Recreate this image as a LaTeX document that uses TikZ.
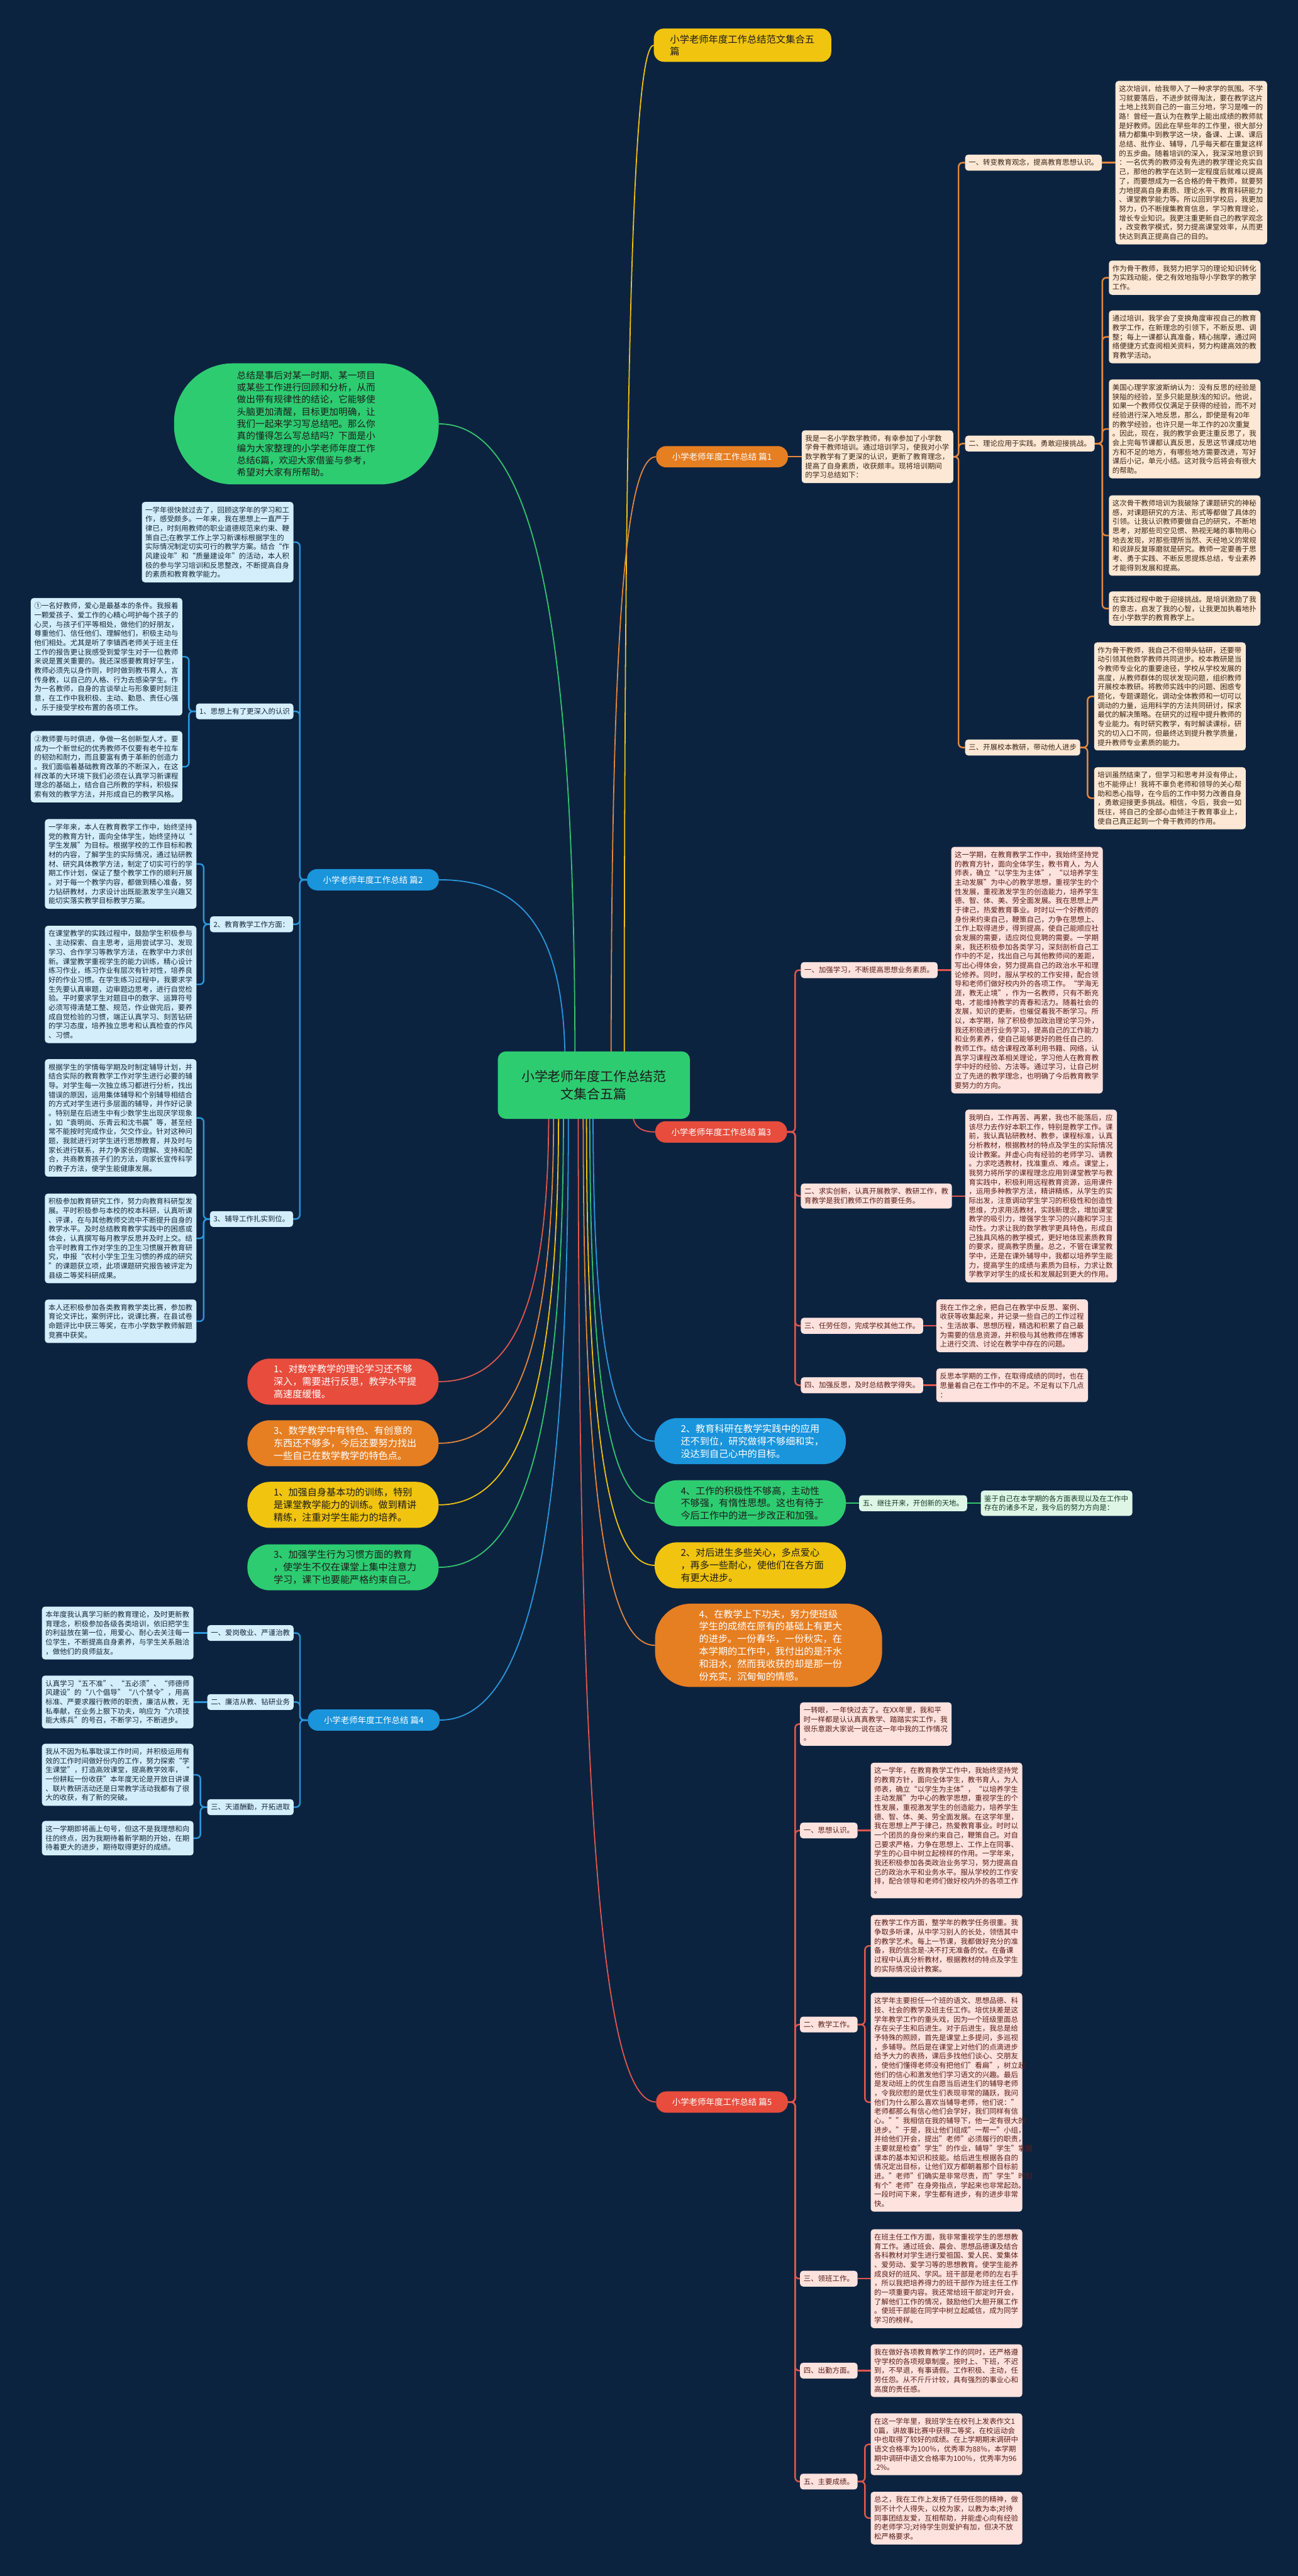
\documentclass[tikz,border=0pt]{standalone}
\usepackage{fontspec}
\setmainfont{Noto Sans CJK SC}
\usetikzlibrary{calc}
\pgfdeclarelayer{back}
\pgfsetlayers{back,main}
\definecolor{bgc}{HTML}{0C2340}
\definecolor{orgc}{HTML}{E67E22}
\definecolor{orgl}{HTML}{E5873B}
\definecolor{peach}{HTML}{FCE8D4}
\definecolor{peachtxt}{HTML}{3B2616}
\definecolor{redc}{HTML}{E74C3C}
\definecolor{redl}{HTML}{E2574C}
\definecolor{pink}{HTML}{FDE2DE}
\definecolor{pinktxt}{HTML}{5A1E18}
\definecolor{bluec}{HTML}{1A94DB}
\definecolor{bluel}{HTML}{2A98DC}
\definecolor{lblue}{HTML}{D5EEFB}
\definecolor{lbluetxt}{HTML}{14283C}
\definecolor{greenc}{HTML}{2ECC71}
\definecolor{greenl}{HTML}{35C46F}
\definecolor{lgreen}{HTML}{DDF6E6}
\definecolor{lgreentxt}{HTML}{173A25}
\definecolor{yellowc}{HTML}{F1C40F}
\definecolor{darkc}{HTML}{1C1C1C}
\newcommand{\fanline}[3]{\draw[#1] (#2) .. controls ($(#2)!0.7!(#2|-#3)$) and ($(#3)!0.7!(#2|-#3)$) .. (#3);}
\begin{document}
\begin{tikzpicture}[x=1.62025pt,y=-1.62025pt,
 every node/.style={inner sep=0pt, outer sep=0pt},
 bx/.style={rounded corners=3pt, align=left, text width=142.5pt, inner xsep=3.5pt, inner ysep=4.5pt, font=\fontsize{7.1pt}{9.1pt}\selectfont},
 lb/.style={rounded corners=3pt, align=left, inner xsep=3.5pt, inner ysep=4.5pt, font=\fontsize{7.1pt}{9.1pt}\selectfont},
 obox/.style={bx, fill=peach, text=peachtxt}, olb/.style={lb, fill=peach, text=peachtxt},
 rbox/.style={bx, fill=pink, text=pinktxt}, rlb/.style={lb, fill=pink, text=pinktxt},
 bbox/.style={bx, fill=lblue, text=lbluetxt}, blb/.style={lb, fill=lblue, text=lbluetxt},
 gbox/.style={bx, fill=lgreen, text=lgreentxt}, glb/.style={lb, fill=lgreen, text=lgreentxt},
 l1/.style={rounded corners=10pt, align=center, minimum width=130pt, minimum height=21pt, font=\fontsize{8.35pt}{10pt}\selectfont, text=white},
 pl/.style={rounded corners=22pt, align=left, text width=137pt, inner xsep=25.8pt, inner ysep=5pt, minimum height=45.4pt, font=\fontsize{9.4pt}{12.35pt}\selectfont},
 oline/.style={draw=orgl, line width=1.5pt, rounded corners=4pt},
 rline/.style={draw=redl, line width=1.5pt, rounded corners=4pt},
 bline/.style={draw=bluel, line width=1.5pt, rounded corners=4pt},
 gline/.style={draw=greenl, line width=1.5pt, rounded corners=4pt},
 fan/.style={line width=1.1pt}
]
\begin{pgfonlayer}{back}
\fill[bgc] (0,0) rectangle (790,1568);
\end{pgfonlayer}
\useasboundingbox (0,0) rectangle (790,1568);

% ---------- title, root, intro ----------
\node[fill=yellowc, text=darkc, rounded corners=10pt, align=left, text width=143pt, inner xsep=16pt, inner ysep=6pt, font=\fontsize{9.5pt}{12pt}\selectfont] (title) at (452,27.5) {小学老师年度工作总结范文集合五\\篇};
\node[fill=greenc, text=darkc, rounded corners=8pt, align=center, minimum width=189.5pt, minimum height=66.5pt, font=\fontsize{13pt}{17pt}\selectfont] (root) at (361.5,660.5) {小学老师年度工作总结范\\文集合五篇};
\node[fill=greenc, text=darkc, rounded corners=58pt, align=left, text width=137pt, inner xsep=62pt, inner ysep=7.5pt, font=\fontsize{9.1pt}{12pt}\selectfont] (intro) at (186.5,258) {总结是事后对某一时期、某一项目\\或某些工作进行回顾和分析，从而\\做出带有规律性的结论，它能够使\\头脑更加清醒，目标更加明确，让\\我们一起来学习写总结吧。那么你\\真的懂得怎么写总结吗？下面是小\\编为大家整理的小学老师年度工作\\总结6篇，欢迎大家借鉴与参考，\\希望对大家有所帮助。};

% ---------- level 1 ----------
\node[l1, fill=orgc] (p1) at (439.5,278) {小学老师年度工作总结 篇1};
\node[l1, fill=bluec] (p2) at (227,535.5) {小学老师年度工作总结 篇2};
\node[l1, fill=redc] (p3) at (439,689) {小学老师年度工作总结 篇3};
\node[l1, fill=bluec] (p4) at (227.5,1047) {小学老师年度工作总结 篇4};
\node[l1, fill=redc] (p5) at (439.5,1279.5) {小学老师年度工作总结 篇5};

% ---------- pills ----------
\node[pl, fill=redc, text=white] (kr) at (208.8,841) {1、对数学教学的理论学习还不够\\深入，需要进行反思，教学水平提\\高速度缓慢。};
\node[pl, fill=orgc, text=white] (ko) at (208.8,878.5) {3、数学教学中有特色、有创意的\\东西还不够多，今后还要努力找出\\一些自己在数学教学的特色点。};
\node[pl, fill=yellowc, text=darkc] (ky) at (208.8,916) {1、加强自身基本功的训练，特别\\是课堂教学能力的训练。做到精讲\\精练，注重对学生能力的培养。};
\node[pl, fill=greenc, text=darkc] (kg) at (208.8,954) {3、加强学生行为习惯方面的教育\\，使学生不仅在课堂上集中注意力\\学习，课下也要能严格约束自己。};
\node[pl, fill=bluec, text=white] (rb) at (456.7,877.2) {2、教育科研在教学实践中的应用\\还不到位，研究做得不够细和实，\\没达到自己心中的目标。};
\node[pl, fill=greenc, text=darkc] (rg) at (456.7,915) {4、工作的积极性不够高，主动性\\不够强，有惰性思想。这也有待于\\今后工作中的进一步改正和加强。};
\node[pl, fill=yellowc, text=darkc] (ry) at (456.7,952.8) {2、对后进生多些关心，多点爱心\\，再多一些耐心，使他们在各方面\\有更大进步。};
\node[pl, fill=orgc, text=white, inner xsep=43.5pt, inner ysep=5.7pt, rounded corners=35pt] (ro) at (467.85,1001.5) {4、在教学上下功夫，努力使班级\\学生的成绩在原有的基础上有更大\\的进步。一份春华，一份秋实，在\\本学期的工作中，我付出的是汗水\\和泪水，然而我收获的却是那一份\\份充实，沉甸甸的情感。};

\node[glb, anchor=west] (g5) at (523,915) {五、继往开来，开创新的天地。};
\node[gbox, anchor=west] (g5b) at (597,915) {鉴于自己在本学期的各方面表现以及在工作中\\存在的诸多不足，我今后的努力方向是：};

% ---------- 篇1 ----------
\node[obox, anchor=west] (p1i) at (488,278) {我是一名小学数学教师，有幸参加了小学数\\学骨干教师培训。通过培训学习，使我对小学\\数学教学有了更深的认识，更新了教育理念，\\提高了自身素质，收获颇丰。现将培训期间\\的学习总结如下：};
\node[olb, anchor=west] (p1a) at (587.5,99) {一、转变教育观念，提高教育思想认识。};
\node[olb, anchor=west] (p1b) at (587.5,270) {二、理论应用于实践。勇敢迎接挑战。};
\node[olb, anchor=west] (p1c) at (587.5,455) {三、开展校本教研，带动他人进步};
\node[obox, anchor=west] (a1) at (679,99) {这次培训，给我带入了一种求学的氛围。不学\\习就要落后，不进步就得淘汰，要在教学这片\\土地上找到自己的一亩三分地，学习是唯一的\\路！曾经一直认为在教学上能出成绩的教师就\\是好教师。因此在早些年的工作里，很大部分\\精力都集中到教学这一块，备课、上课、课后\\总结、批作业、辅导，几乎每天都在重复这样\\的五步曲。随着培训的深入，我深深地意识到\\：一名优秀的教师没有先进的教学理论充实自\\己，那他的教学在达到一定程度后就难以提高\\了，而要想成为一名合格的骨干教师，就要努\\力地提高自身素质、理论水平、教育科研能力\\、课堂教学能力等。所以回到学校后，我更加\\努力，仍不断搜集教育信息，学习教育理论，\\增长专业知识。我更注重更新自己的教学观念\\，改变教学模式，努力提高课堂效率，从而更\\快达到真正提高自己的目的。};
\node[obox, anchor=north west] (a2) at (675,158.6) {作为骨干教师，我努力把学习的理论知识转化\\为实践动能，使之有效地指导小学数学的教学\\工作。};
\node[obox, anchor=north west] (a3) at (675,189) {通过培训，我学会了变换角度审视自己的教育\\教学工作，在新理念的引领下，不断反思、调\\整；每上一课都认真准备，精心揣摩，通过网\\络便捷方式查阅相关资料，努力构建高效的教\\育教学活动。};
\node[obox, anchor=north west] (a4) at (675,231) {美国心理学家波斯纳认为：没有反思的经验是\\狭隘的经验，至多只能是肤浅的知识。他说，\\如果一个教师仅仅满足于获得的经验，而不对\\经验进行深入地反思，那么，即使是有20年\\的教学经验，也许只是一年工作的20次重复\\。因此，现在，我的教学会更注重反思了，我\\会上完每节课都认真反思，反思这节课成功地\\方和不足的地方，有哪些地方需要改进，写好\\课后小记，单元小结。这对我今后将会有很大\\的帮助。};
\node[obox, anchor=north west] (a5) at (675,301.5) {这次骨干教师培训为我破除了课题研究的神秘\\感，对课题研究的方法、形式等都做了具体的\\引领。让我认识教师要做自己的研究，不断地\\思考，对那些司空见惯、熟视无睹的事物用心\\地去发现，对那些理所当然、天经地义的常规\\和说辞反复琢磨就是研究。教师一定要善于思\\考、勇于实践、不断反思提炼总结，专业素养\\才能得到发展和提高。};
\node[obox, anchor=north west] (a6) at (675,360) {在实践过程中敢于迎接挑战。是培训激励了我\\的意志，启发了我的心智，让我更加执着地扑\\在小学数学的教育教学上。};
\node[obox, anchor=north west] (b1) at (666,391) {作为骨干教师，我自己不但带头钻研，还要带\\动引领其他数学教师共同进步。校本教研是当\\今教师专业化的重要途径，学校从学校发展的\\高度，从教师群体的现状发现问题，组织教师\\开展校本教研。将教师实践中的问题、困惑专\\题化，专题课题化，调动全体教师和一切可以\\调动的力量，运用科学的方法共同研讨，探求\\最优的解决策略。在研究的过程中提升教师的\\专业能力。有时研究教学，有时解读课标，研\\究的切入口不同，但最终达到提升教学质量，\\提升教师专业素质的能力。};
\node[obox, anchor=north west] (b2) at (666,467) {培训虽然结束了，但学习和思考并没有停止，\\也不能停止！我将不辜负老师和领导的关心帮\\助和悉心指导，在今后的工作中努力改善自身\\，勇敢迎接更多挑战。相信，今后，我会一如\\既往，将自己的全部心血倾注于教育事业上，\\使自己真正起到一个骨干教师的作用。};

% ---------- 篇3 ----------
\node[rlb, anchor=west] (c1l) at (487.5,590.5) {一、加强学习，不断提高思想业务素质。};
\node[rlb, anchor=west] (c2l) at (487.5,728) {二、求实创新，认真开展教学、教研工作，教\\育教学是我们教师工作的首要任务。};
\node[rlb, anchor=west] (c3l) at (487.5,807) {三、任劳任怨，完成学校其他工作。};
\node[rlb, anchor=west] (c4l) at (487.5,843.2) {四、加强反思，及时总结教学得失。};
\node[rbox, anchor=west] (c1) at (579,590.5) {这一学期，在教育教学工作中，我始终坚持党\\的教育方针，面向全体学生，教书育人，为人\\师表，确立“以学生为主体”，“以培养学生\\主动发展”为中心的教学思想，重视学生的个\\性发展，重视激发学生的创造能力，培养学生\\德、智、体、美、劳全面发展。我在思想上严\\于律己，热爱教育事业。时时以一个好教师的\\身份来约束自己，鞭策自己，力争在思想上、\\工作上取得进步，得到提高，使自己能顺应社\\会发展的需要，适应岗位竞聘的需要。一学期\\来，我还积极参加各类学习，深刻剖析自己工\\作中的不足，找出自己与其他教师间的差距，\\写出心得体会，努力提高自己的政治水平和理\\论修养。同时，服从学校的工作安排，配合领\\导和老师们做好校内外的各项工作。“学海无\\涯，教无止境”，作为一名教师，只有不断充\\电，才能维持教学的青春和活力。随着社会的\\发展，知识的更新，也催促着我不断学习。所\\以，本学期，除了积极参加政治理论学习外，\\我还积极进行业务学习，提高自己的工作能力\\和业务素养，使自己能够更好的胜任自己的.\\教师工作。结合课程改革利用书籍、网络，认\\真学习课程改革相关理论，学习他人在教育教\\学中好的经验、方法等。通过学习，让自己树\\立了先进的教学理念，也明确了今后教育教学\\要努力的方向。};
\node[rbox, anchor=west] (c2) at (587.6,728) {我明白，工作再苦、再累，我也不能落后，应\\该尽力去作好本职工作，特别是教学工作。课\\前，我认真钻研教材、教参，课程标准，认真\\分析教材，根据教材的特点及学生的实际情况\\设计教案。并虚心向有经验的老师学习、请教\\。力求吃透教材，找准重点、难点。课堂上，\\我努力将所学的课程理念应用到课堂教学与教\\育实践中，积极利用远程教育资源，运用课件\\，运用多种教学方法，精讲精练，从学生的实\\际出发，注意调动学生学习的积极性和创造性\\思维，力求用活教材，实践新理念，增加课堂\\教学的吸引力，增强学生学习的兴趣和学习主\\动性。力求让我的数学教学更具特色，形成自\\己独具风格的教学模式，更好地体现素质教育\\的要求，提高教学质量。总之，不管在课堂教\\学中，还是在课外辅导中，我都以培养学生能\\力，提高学生的成绩与素质为目标，力求让数\\学教学对学生的成长和发展起到更大的作用。};
\node[rbox, anchor=west] (c3) at (570,807) {我在工作之余，把自己在教学中反思、案例、\\收获等收集起来，并记录一些自己的工作过程\\、生活故事、思想历程，精选和积累了自己最\\为需要的信息资源，并积极与其他教师在博客\\上进行交流、讨论在教学中存在的问题。};
\node[rbox, anchor=west] (c4) at (570,843.2) {反思本学期的工作，在取得成绩的同时，也在\\思量着自己在工作中的不足。不足有以下几点\\：};

% ---------- 篇2 ----------
\node[bbox, anchor=east] (p2i) at (178.6,330) {一学年很快就过去了，回顾这学年的学习和工\\作，感受颇多。一年来，我在思想上一直严于\\律已，时刻用教师的职业道德规范来约束、鞭\\策自己;在教学工作上学习新课标根据学生的\\实际情况制定切实可行的教学方案。结合“作\\风建设年”和“质量建设年”的活动，本人积\\极的参与学习培训和反思整改，不断提高自身\\的素质和教育教学能力。};
\node[blb, anchor=east] (q1l) at (178.6,433) {1、思想上有了更深入的认识};
\node[blb, anchor=east] (q2l) at (178.4,562.6) {2、教育教学工作方面：};
\node[blb, anchor=east] (q3l) at (178.4,742) {3、辅导工作扎实到位。};
\node[bbox, anchor=north east] (q1a) at (111,364) {①一名好教师，爱心是最基本的条件。我报着\\一颗爱孩子、爱工作的心精心呵护每个孩子的\\心灵，与孩子们平等相处，做他们的好朋友，\\尊重他们、信任他们、理解他们，积极主动与\\他们相处。尤其是听了李镇西老师关于班主任\\工作的报告更让我感受到爱学生对于一位教师\\来说是置关重要的。我还深感要教育好学生，\\教师必须先以身作则，时时做到教书育人，言\\传身教，以自己的人格、行为去感染学生。作\\为一名教师，自身的言谈举止与形象要时刻注\\意，在工作中我积极、主动、勤恳、责任心强\\，乐于接受学校布置的各项工作。};
\node[bbox, anchor=north east] (q1b) at (111,445) {②教师要与时俱进，争做一名创新型人才。要\\成为一个新世纪的优秀教师不仅要有老牛拉车\\的韧劲和耐力，而且要富有勇于革新的创造力\\。我们面临着基础教育改革的不断深入，在这\\样改革的大环境下我们必须在认真学习新课程\\理念的基础上，结合自己所教的学科，积极探\\索有效的教学方法，并形成自已的教学风格。};
\node[bbox, anchor=north east] (q2a) at (119.6,498.6) {一学年来，本人在教育教学工作中，始终坚持\\党的教育方针，面向全体学生，始终坚持以“\\学生发展”为目标。根据学校的工作目标和教\\材的内容，了解学生的实际情况，通过钻研教\\材、研究具体教学方法，制定了切实可行的学\\期工作计划，保证了整个教学工作的顺利开展\\。对于每一个教学内容，都做到精心准备，努\\力钻研教材，力求设计出既能激发学生兴趣又\\能切实落实教学目标教学方案。};
\node[bbox, anchor=north east] (q2b) at (119.6,563.5) {在课堂教学的实践过程中，鼓励学生积极参与\\、主动探索、自主思考，运用尝试学习、发现\\学习、合作学习等教学方法，在教学中力求创\\新。课堂教学重视学生的能力训练，精心设计\\练习作业，练习作业有层次有针对性，培养良\\好的作业习惯。在学生练习过程中，我要求学\\生先要认真审题，边审题边思考，进行自觉检\\验。平时要求学生对题目中的数字、运算符号\\必须写得清楚工整、规范，作业做完后，要养\\成自觉检验的习惯，端正认真学习、刻苦钻研\\的学习态度，培养独立思考和认真检查的作风\\、习惯。};
\node[bbox, anchor=north east] (q3a) at (119.6,644.7) {根据学生的学情每学期及时制定辅导计划，并\\结合实际的教育教学工作对学生进行必要的辅\\导。对学生每一次独立练习都进行分析，找出\\错误的原因，运用集体辅导和个别辅导相结合\\的方式对学生进行多层面的辅导，并作好记录\\。特别是在后进生中有少数学生出现厌学现象\\，如“袁明尚、乐青云和沈书晨”等，甚至经\\常不能按时完成作业，欠交作业。针对这种问\\题，我就进行对学生进行思想教育，并及时与\\家长进行联系，并力争家长的理解、支持和配\\合，共商教育孩子们的方法，向家长宣传科学\\的教子方法，使学生能健康发展。};
\node[bbox, anchor=north east] (q3b) at (119.6,726.5) {积极参加教育研究工作，努力向教育科研型发\\展。平时积极参与本校的校本科研，认真听课\\、评课，在与其他教师交流中不断提升自身的\\教学水平。及时总结教育教学实践中的困惑或\\体会，认真撰写每月教学反思并及时上交。结\\合平时教育工作对学生的卫生习惯展开教育研\\究，申报“农村小学生卫生习惯的养成的研究\\”的课题获立项，此项课题研究报告被评定为\\县级二等奖科研成果。};
\node[bbox, anchor=north east] (q3c) at (119.6,791) {本人还积极参加各类教育教学类比赛，参加教\\育论文评比，案例评比，说课比赛，在县试卷\\命题评比中获三等奖，在市小学数学教师解题\\竞赛中获奖。};

% ---------- 篇4 ----------
\node[blb, anchor=east] (d1l) at (178.7,994) {一、爱岗敬业、严谨治教};
\node[blb, anchor=east] (d2l) at (178.7,1036) {二、廉洁从教、钻研业务};
\node[blb, anchor=east] (d3l) at (178.7,1100) {三、天道酬勤，开拓进取};
\node[bbox, anchor=east] (d1) at (117.8,994) {本年度我认真学习新的教育理论，及时更新教\\育理念，积极参加各级各类培训，依旧把学生\\的利益放在第一位，用爱心、耐心去关注每一\\位学生，不断提高自身素养，与学生关系融洽\\，做他们的良师益友。};
\node[bbox, anchor=east] (d2) at (117.8,1036) {认真学习“五不准”、“五必须”、“师德师\\风建设”的“八个倡导”“八个禁令”，用高\\标准、严要求履行教师的职责，廉洁从教，无\\私奉献，在业务上狠下功夫，响应为“六项技\\能大练兵”的号召，不断学习，不断进步。};
\node[bbox, anchor=north east] (d3) at (117.8,1061.4) {我从不因为私事耽误工作时间，并积极运用有\\效的工作时间做好份内的工作，努力探索“学\\生课堂”，打造高效课堂，提高教学效率，“\\一份耕耘一份收获”本年度无论是开放日讲课\\、联片教研活动还是日常教学活动我都有了很\\大的收获，有了新的突破。};
\node[bbox, anchor=north east] (d4) at (117.8,1108.4) {这一学期即将画上句号，但这不是我理想和向\\往的终点，因为我期待着新学期的开始，在期\\待着更大的进步，期待取得更好的成绩。};

% ---------- 篇5 ----------
\node[rbox, anchor=west] (e0) at (487,1049.4) {一转眼，一年快过去了。在XX年里，我和平\\时一样都是认认真真教学、踏踏实实工作，我\\很乐意跟大家说一说在这一年中我的工作情况\\。};
\node[rlb, anchor=west] (e1l) at (487,1114.2) {一、思想认识。};
\node[rlb, anchor=west] (e2l) at (487,1232.3) {二、教学工作。};
\node[rlb, anchor=west] (e3l) at (487,1387) {三、领班工作。};
\node[rlb, anchor=west] (e4l) at (487,1443) {四、出勤方面。};
\node[rlb, anchor=west] (e5l) at (487,1510.5) {五、主要成绩。};
\node[rbox, anchor=west] (e1) at (530,1114.2) {这一学年，在教育教学工作中，我始终坚持党\\的教育方针，面向全体学生，教书育人，为人\\师表，确立“以学生为主体”，“以培养学生\\主动发展”为中心的教学思想，重视学生的个\\性发展，重视激发学生的创造能力，培养学生\\德、智、体、美、劳全面发展。在这学年里，\\我在思想上严于律己，热爱教育事业。时时以\\一个团员的身份来约束自己，鞭策自己。对自\\己要求严格，力争在思想上、工作上在同事、\\学生的心目中树立起榜样的作用。一学年来，\\我还积极参加各类政治业务学习，努力提高自\\己的政治水平和业务水平。服从学校的工作安\\排，配合领导和老师们做好校内外的各项工作\\。};
\node[rbox, anchor=north west] (e2a) at (530,1165.6) {在教学工作方面，整学年的教学任务很重。我\\争取多听课，从中学习别人的长处，领悟其中\\的教学艺术。每上一节课，我都做好充分的准\\备，我的信念是-决不打无准备的仗。在备课\\过程中认真分析教材，根据教材的特点及学生\\的实际情况设计教案。};
\node[rbox, anchor=north west] (e2b) at (530,1213) {这学年主要担任一个班的语文、思想品德、科\\技、社会的教学及班主任工作。培优扶差是这\\学年教学工作的重头戏，因为一个班级里面总\\存在尖子生和后进生。对于后进生，我总是给\\予特殊的照顾，首先是课堂上多提问，多巡视\\，多辅导。然后是在课堂上对他们的点滴进步\\给予大力的表扬，课后多找他们谈心、交朋友\\，使他们懂得老师没有把他们"看扁"，树立起\\他们的信心和激发他们学习语文的兴趣。最后\\是发动班上的优生自愿当后进生们的辅导老师\\，令我欣慰的是优生们表现非常的踊跃，我问\\他们为什么那么喜欢当辅导老师，他们说："\\老师都那么有信心他们会学好，我们同样有信\\心。""我相信在我的辅导下，他一定有很大的\\进步。"于是，我让他们组成"一帮一"小组，\\并给他们开会，提出"老师"必须履行的职责，\\主要就是检查"学生"的作业，辅导"学生"掌握\\课本的基本知识和技能。给后进生根据各自的\\情况定出目标，让他们双方都朝着那个目标前\\进。"老师"们确实是非常尽责，而"学生"时刻\\有个"老师"在身旁指点，学起来也非常起劲。\\一段时间下来，学生都有进步，有的进步非常\\快。};
\node[rbox, anchor=west] (e3) at (530,1387) {在班主任工作方面，我非常重视学生的思想教\\育工作。通过班会、晨会、思想品德课及结合\\各科教材对学生进行爱祖国、爱人民、爱集体\\、爱劳动、爱学习等的思想教育。使学生能养\\成良好的班风、学风。班干部是老师的左右手\\，所以我把培养得力的班干部作为班主任工作\\的一项重要内容。我还常给班干部定时开会，\\了解他们工作的情况，鼓励他们大胆开展工作\\。使班干部能在同学中树立起威信，成为同学\\学习的榜样。};
\node[rbox, anchor=west] (e4) at (530,1443) {我在做好各项教育教学工作的同时，还严格遵\\守学校的各项规章制度。按时上、下班，不迟\\到，不早退，有事请假。工作积极、主动，任\\劳任怨。从不斤斤计较，具有强烈的事业心和\\高度的责任感。};
\node[rbox, anchor=north west] (e5a) at (530,1469) {在这一学年里，我班学生在校刊上发表作文1\\0篇，讲故事比赛中获得二等奖，在校运动会\\中也取得了较好的成绩。在上学期期末调研中\\语文合格率为100％，优秀率为88\%，本学期\\期中调研中语文合格率为100％，优秀率为96\\.2\%。};
\node[rbox, anchor=north west] (e5b) at (530,1516.7) {总之，我在工作上发扬了任劳任怨的精神，做\\到不计个人得失，以校为家，以教为本;对待\\同事团结友爱，互相帮助，并能虚心向有经验\\的老师学习;对待学生则爱护有加，但决不放\\松严格要求。};

% ---------- connectors ----------
\begin{pgfonlayer}{back}
\coordinate (sT) at (380,650);
\coordinate (sP1) at (372,650);
\coordinate (sI) at (350,650);
\coordinate (sP2) at (344,650);
\coordinate (sP3) at (385,676);
\coordinate (sKr) at (334,676);
\coordinate (sKo) at (337,676);
\coordinate (sKy) at (340,676);
\coordinate (sKg) at (343,676);
\coordinate (sP4) at (346,676);
\coordinate (sP5) at (352,676);
\coordinate (sRo) at (355,676);
\coordinate (sRy) at (357,676);
\coordinate (sRg) at (359,676);
\coordinate (sRb) at (361,676);
\fanline{fan, draw=yellowc}{sT}{title.west}
\fanline{fan, draw=orgl}{sP1}{p1.west}
\fanline{fan, draw=greenl}{sI}{intro.east}
\fanline{fan, draw=bluel}{sP2}{p2.east}
\fanline{fan, draw=redl}{sP3}{p3.west}
\fanline{fan, draw=redl}{sKr}{kr.east}
\fanline{fan, draw=orgl}{sKo}{ko.east}
\fanline{fan, draw=yellowc}{sKy}{ky.east}
\fanline{fan, draw=greenl}{sKg}{kg.east}
\fanline{fan, draw=bluel}{sP4}{p4.east}
\fanline{fan, draw=redl}{sP5}{p5.west}
\fanline{fan, draw=orgl}{sRo}{ro.west}
\fanline{fan, draw=yellowc}{sRy}{ry.west}
\fanline{fan, draw=greenl}{sRg}{rg.west}
\fanline{fan, draw=bluel}{sRb}{rb.west}

% 篇1
\draw[oline] (p1.east) -- (p1i.west);
\foreach \t in {p1a,p1b,p1c} \draw[oline] (p1i.east) -- (583.5,278) |- (\t.west);
\draw[oline] (p1a.east) -- (a1.west);
\foreach \t in {a2,a3,a4,a5,a6} \draw[oline] (p1b.east) -- (671,270) |- (\t.west);
\foreach \t in {b1,b2} \draw[oline] (p1c.east) -- (662,455) |- (\t.west);
% 篇3
\foreach \t in {c1l,c2l,c3l,c4l} \draw[rline] (p3.east) -- (484,689) |- (\t.west);
\draw[rline] (c1l.east) -- (c1.west);
\draw[rline] (c2l.east) -- (c2.west);
\draw[rline] (c3l.east) -- (c3.west);
\draw[rline] (c4l.east) -- (c4.west);
% 五
\draw[gline] (rg.east) -- (g5.west);
\draw[gline] (g5.east) -- (g5b.west);
% 篇2
\foreach \t in {p2i,q1l,q2l,q3l} \draw[bline] (p2.west) -- (182.5,535.5) |- (\t.east);
\foreach \t in {q1a,q1b} \draw[bline] (q1l.west) -- (115,433) |- (\t.east);
\foreach \t in {q2a,q2b} \draw[bline] (q2l.west) -- (124,562.6) |- (\t.east);
\foreach \t in {q3a,q3b,q3c} \draw[bline] (q3l.west) -- (124,742) |- (\t.east);
% 篇4
\foreach \t in {d1l,d2l,d3l} \draw[bline] (p4.west) -- (182.6,1047) |- (\t.east);
\draw[bline] (d1l.west) -- (d1.east);
\draw[bline] (d2l.west) -- (d2.east);
\foreach \t in {d3,d4} \draw[bline] (d3l.west) -- (122,1100) |- (\t.east);
% 篇5
\foreach \t in {e0,e1l,e2l,e3l,e4l,e5l} \draw[rline] (p5.east) -- (484,1279.5) |- (\t.west);
\draw[rline] (e1l.east) -- (e1.west);
\foreach \t in {e2a,e2b} \draw[rline] (e2l.east) -- (526.5,1232.3) |- (\t.west);
\draw[rline] (e3l.east) -- (e3.west);
\draw[rline] (e4l.east) -- (e4.west);
\foreach \t in {e5a,e5b} \draw[rline] (e5l.east) -- (526.5,1510.5) |- (\t.west);
\end{pgfonlayer}
\end{tikzpicture}
\end{document}
